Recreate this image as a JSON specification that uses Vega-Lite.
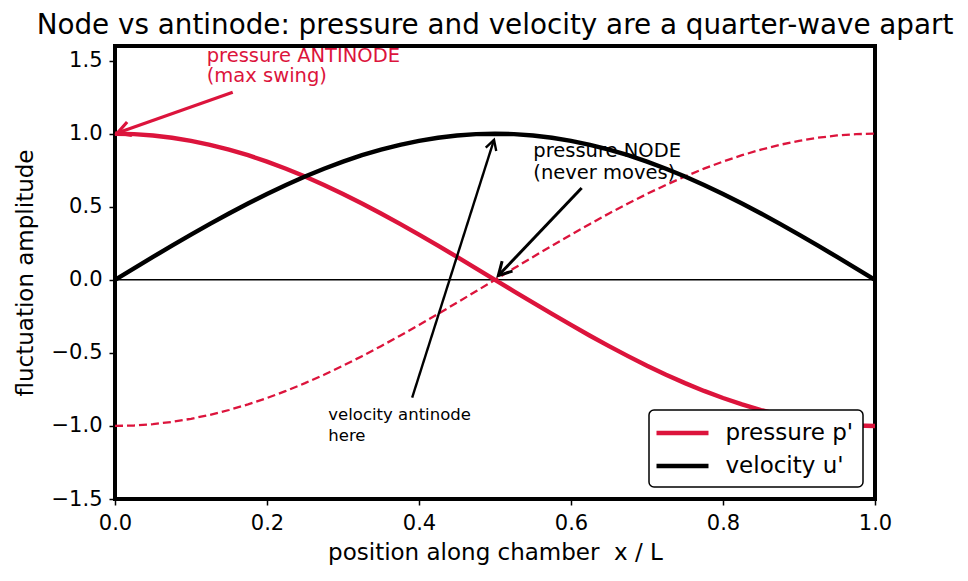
{
  "$schema": "https://vega.github.io/schema/vega-lite/v6.json",
  "width": 760,
  "height": 453,
  "autosize": {"type": "none"},
  "padding": {"left": 115, "top": 46, "right": 93, "bottom": 82},
  "background": "white",
  "config": {
    "font": "DejaVu Sans",
    "view": {"stroke": "black", "strokeWidth": 4},
    "legend": {"strokeWidth": 1.5},
    "axis": {
      "grid": false, "domain": false,
      "tickColor": "black", "tickSize": 6, "tickWidth": 1.5,
      "labelColor": "black", "labelFontSize": 21, "labelFont": "DejaVu Sans",
      "titleColor": "black", "titleFontSize": 23, "titleFont": "DejaVu Sans", "titleFontWeight": "normal"
    }
  },
  "title": {
    "text": "Node vs antinode: pressure and velocity are a quarter-wave apart",
    "fontSize": 27.8, "fontWeight": "normal", "font": "DejaVu Sans", "color": "black",
    "anchor": "middle", "frame": "group", "baseline": "alphabetic", "offset": -16
  },
  "datasets": {
    "wave": [
      {"x": 0, "p": 1, "u": 0, "q": -1},
      {"x": 0.025, "p": 0.99692, "u": 0.07846, "q": -0.99692},
      {"x": 0.05, "p": 0.98769, "u": 0.15643, "q": -0.98769},
      {"x": 0.075, "p": 0.97237, "u": 0.23345, "q": -0.97237},
      {"x": 0.1, "p": 0.95106, "u": 0.30902, "q": -0.95106},
      {"x": 0.125, "p": 0.92388, "u": 0.38268, "q": -0.92388},
      {"x": 0.15, "p": 0.89101, "u": 0.45399, "q": -0.89101},
      {"x": 0.175, "p": 0.85264, "u": 0.5225, "q": -0.85264},
      {"x": 0.2, "p": 0.80902, "u": 0.58779, "q": -0.80902},
      {"x": 0.225, "p": 0.76041, "u": 0.64945, "q": -0.76041},
      {"x": 0.25, "p": 0.70711, "u": 0.70711, "q": -0.70711},
      {"x": 0.275, "p": 0.64945, "u": 0.76041, "q": -0.64945},
      {"x": 0.3, "p": 0.58779, "u": 0.80902, "q": -0.58779},
      {"x": 0.325, "p": 0.5225, "u": 0.85264, "q": -0.5225},
      {"x": 0.35, "p": 0.45399, "u": 0.89101, "q": -0.45399},
      {"x": 0.375, "p": 0.38268, "u": 0.92388, "q": -0.38268},
      {"x": 0.4, "p": 0.30902, "u": 0.95106, "q": -0.30902},
      {"x": 0.425, "p": 0.23345, "u": 0.97237, "q": -0.23345},
      {"x": 0.45, "p": 0.15643, "u": 0.98769, "q": -0.15643},
      {"x": 0.475, "p": 0.07846, "u": 0.99692, "q": -0.07846},
      {"x": 0.5, "p": 0, "u": 1, "q": 0},
      {"x": 0.525, "p": -0.07846, "u": 0.99692, "q": 0.07846},
      {"x": 0.55, "p": -0.15643, "u": 0.98769, "q": 0.15643},
      {"x": 0.575, "p": -0.23345, "u": 0.97237, "q": 0.23345},
      {"x": 0.6, "p": -0.30902, "u": 0.95106, "q": 0.30902},
      {"x": 0.625, "p": -0.38268, "u": 0.92388, "q": 0.38268},
      {"x": 0.65, "p": -0.45399, "u": 0.89101, "q": 0.45399},
      {"x": 0.675, "p": -0.5225, "u": 0.85264, "q": 0.5225},
      {"x": 0.7, "p": -0.58779, "u": 0.80902, "q": 0.58779},
      {"x": 0.725, "p": -0.64945, "u": 0.76041, "q": 0.64945},
      {"x": 0.75, "p": -0.70711, "u": 0.70711, "q": 0.70711},
      {"x": 0.775, "p": -0.76041, "u": 0.64945, "q": 0.76041},
      {"x": 0.8, "p": -0.80902, "u": 0.58779, "q": 0.80902},
      {"x": 0.825, "p": -0.85264, "u": 0.5225, "q": 0.85264},
      {"x": 0.85, "p": -0.89101, "u": 0.45399, "q": 0.89101},
      {"x": 0.875, "p": -0.92388, "u": 0.38268, "q": 0.92388},
      {"x": 0.9, "p": -0.95106, "u": 0.30902, "q": 0.95106},
      {"x": 0.925, "p": -0.97237, "u": 0.23345, "q": 0.97237},
      {"x": 0.95, "p": -0.98769, "u": 0.15643, "q": 0.98769},
      {"x": 0.975, "p": -0.99692, "u": 0.07846, "q": 0.99692},
      {"x": 1, "p": -1, "u": 0, "q": 1}
    ]
  },
  "layer": [
    {
      "data": {"name": "wave"},
      "mark": {"type": "line", "color": "#DC143C", "strokeWidth": 2.3, "strokeDash": [8, 4]},
      "encoding": {
        "x": {"field": "x", "type": "quantitative", "scale": {"domain": [0, 1], "nice": false, "zero": false},
              "title": "position along chamber\u00a0 x / L",
              "axis": {"values": [0, 0.2, 0.4, 0.6, 0.8, 1], "format": ".1f", "labelPadding": 7, "titlePadding": 8, "labelFlush": false}},
        "y": {"field": "q", "type": "quantitative", "scale": {"domain": [-1.5, 1.6], "nice": false, "zero": false},
              "title": "fluctuation amplitude",
              "axis": {"values": [-1.5, -1, -0.5, 0, 0.5, 1, 1.5], "format": ".1f", "labelExpr": "replace(datum.label, '-', '\u2212')", "labelPadding": 7, "titlePadding": 14, "labelFlush": false}}
      }
    },
    {
      "data": {"values": [{}]},
      "mark": {"type": "rule", "color": "black", "strokeWidth": 1.5},
      "encoding": {
        "y": {"datum": 0, "type": "quantitative", "title": "fluctuation amplitude"}
      }
    },
    {
      "data": {"name": "wave"},
      "transform": [{"fold": ["p", "u"], "as": ["series", "val"]}],
      "mark": {"type": "line", "strokeWidth": 4.4},
      "encoding": {
        "x": {"field": "x", "type": "quantitative", "title": "position along chamber\u00a0 x / L"},
        "y": {"field": "val", "type": "quantitative", "title": "fluctuation amplitude"},
        "color": {
          "field": "series", "type": "nominal",
          "scale": {"domain": ["p", "u"], "range": ["#DC143C", "black"]},
          "legend": {
            "title": null, "orient": "bottom-right", "offset": 12,
            "labelExpr": "datum.value == 'p' ? \"pressure p'\" : \"velocity u'\"",
            "labelFontSize": 23, "labelFont": "DejaVu Sans", "labelColor": "black",
            "symbolType": "M-2.26,0H2.26", "symbolSize": 529, "symbolStrokeWidth": 4.4,
            "symbolOffset": 10.5, "labelOffset": 29,
            "strokeColor": "black", "cornerRadius": 5, "fillColor": "white",
            "padding": 9, "rowPadding": 7
          }
        }
      }
    },
    {
      "data": {"values": [{"x": 0.1549, "y": 1.284, "x2": 0.003, "y2": 1.004}]},
      "mark": {"type": "rule", "color": "#DC143C", "strokeWidth": 3.2},
      "encoding": {
        "x": {"field": "x", "type": "quantitative", "title": "position along chamber\u00a0 x / L"},
        "y": {"field": "y", "type": "quantitative", "title": "fluctuation amplitude"},
        "x2": {"field": "x2"}, "y2": {"field": "y2"}
      }
    },
    {
      "data": {"values": [{"x": 0.003, "y": 1.004}]},
      "mark": {"type": "point", "shape": "M-0.55,1L0,0L0.55,1", "filled": false, "opacity": 1, "stroke": "#DC143C", "strokeWidth": 3.2, "size": 676, "angle": 250.4, "strokeJoin": "miter"},
      "encoding": {
        "x": {"field": "x", "type": "quantitative", "title": "position along chamber\u00a0 x / L"},
        "y": {"field": "y", "type": "quantitative", "title": "fluctuation amplitude"}
      }
    },
    {
      "data": {"values": [{"x": 0.614, "y": 0.628, "x2": 0.5044, "y2": 0.029}]},
      "mark": {"type": "rule", "color": "black", "strokeWidth": 3},
      "encoding": {
        "x": {"field": "x", "type": "quantitative", "title": "position along chamber\u00a0 x / L"},
        "y": {"field": "y", "type": "quantitative", "title": "fluctuation amplitude"},
        "x2": {"field": "x2"}, "y2": {"field": "y2"}
      }
    },
    {
      "data": {"values": [{"x": 0.5044, "y": 0.029}]},
      "mark": {"type": "point", "shape": "M-0.55,1L0,0L0.55,1", "filled": false, "opacity": 1, "stroke": "black", "strokeWidth": 3, "size": 676, "angle": 223.5, "strokeJoin": "miter"},
      "encoding": {
        "x": {"field": "x", "type": "quantitative", "title": "position along chamber\u00a0 x / L"},
        "y": {"field": "y", "type": "quantitative", "title": "fluctuation amplitude"}
      }
    },
    {
      "data": {"values": [{"x": 0.391, "y": -0.806, "x2": 0.4987, "y2": 0.958}]},
      "mark": {"type": "rule", "color": "black", "strokeWidth": 2.4},
      "encoding": {
        "x": {"field": "x", "type": "quantitative", "title": "position along chamber\u00a0 x / L"},
        "y": {"field": "y", "type": "quantitative", "title": "fluctuation amplitude"},
        "x2": {"field": "x2"}, "y2": {"field": "y2"}
      }
    },
    {
      "data": {"values": [{"x": 0.4987, "y": 0.958}]},
      "mark": {"type": "point", "shape": "M-0.55,1L0,0L0.55,1", "filled": false, "opacity": 1, "stroke": "black", "strokeWidth": 2.4, "size": 400, "angle": 17.6, "strokeJoin": "miter"},
      "encoding": {
        "x": {"field": "x", "type": "quantitative", "title": "position along chamber\u00a0 x / L"},
        "y": {"field": "y", "type": "quantitative", "title": "fluctuation amplitude"}
      }
    },
    {
      "data": {"values": [{"x": 0.1207, "y": 1.493, "label": "pressure ANTINODE\n(max swing)"}]},
      "mark": {"type": "text", "align": "left", "baseline": "alphabetic", "lineBreak": "\n", "lineHeight": 20.5, "fontSize": 19.5, "font": "DejaVu Sans", "color": "#DC143C"},
      "encoding": {
        "x": {"field": "x", "type": "quantitative", "title": "position along chamber\u00a0 x / L"},
        "y": {"field": "y", "type": "quantitative", "title": "fluctuation amplitude"},
        "text": {"field": "label"}
      }
    },
    {
      "data": {"values": [{"x": 0.5504, "y": 0.84, "label": "pressure NODE\n(never moves)"}]},
      "mark": {"type": "text", "align": "left", "baseline": "alphabetic", "lineBreak": "\n", "lineHeight": 22, "fontSize": 19.5, "font": "DejaVu Sans", "color": "black"},
      "encoding": {
        "x": {"field": "x", "type": "quantitative", "title": "position along chamber\u00a0 x / L"},
        "y": {"field": "y", "type": "quantitative", "title": "fluctuation amplitude"},
        "text": {"field": "label"}
      }
    },
    {
      "data": {"values": [{"x": 0.2807, "y": -0.959, "label": "velocity antinode\nhere"}]},
      "mark": {"type": "text", "align": "left", "baseline": "alphabetic", "lineBreak": "\n", "lineHeight": 21, "fontSize": 16.5, "font": "DejaVu Sans", "color": "black"},
      "encoding": {
        "x": {"field": "x", "type": "quantitative", "title": "position along chamber\u00a0 x / L"},
        "y": {"field": "y", "type": "quantitative", "title": "fluctuation amplitude"},
        "text": {"field": "label"}
      }
    }
  ]
}
